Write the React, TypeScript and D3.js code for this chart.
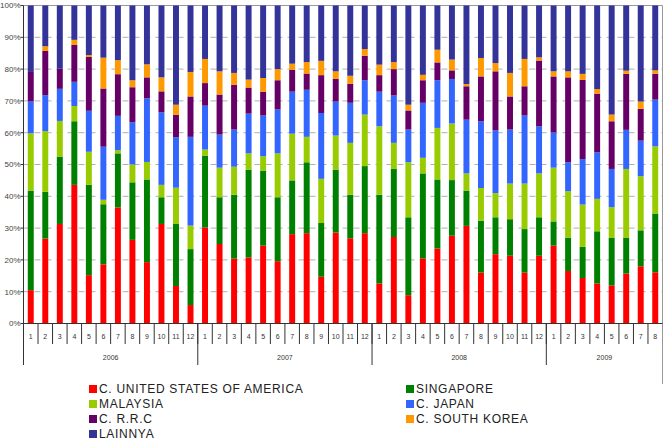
import React from 'react';
import * as d3 from 'd3';

const WIDTH = 670;
const HEIGHT = 442;

const MARGIN = { top: 5.5, left: 23.5, right: 662.5, bottom: 323.5 };

const YEARS = ['2006', '2007', '2008', '2009'];
const MONTHS_PER_YEAR = [12, 12, 12, 8];

const SERIES = [
  { key: 'usa', name: 'C. UNITED STATES OF AMERICA', color: '#ff0000' },
  { key: 'sg', name: 'SINGAPORE', color: '#008000' },
  { key: 'my', name: 'MALAYSIA', color: '#99cc00' },
  { key: 'jp', name: 'C. JAPAN', color: '#3366ff' },
  { key: 'prrc', name: 'C. R.R.C', color: '#660066' },
  { key: 'sk', name: 'C. SOUTH KOREA', color: '#ff9900' },
  { key: 'other', name: 'LAINNYA', color: '#333399' },
];

// percent share per month, 2006-01 .. 2009-08
const usa = [
  10.5, 26.7, 31.3, 43.6, 15.2, 18.6, 36.5, 26.3, 19.3, 31.3, 11.8, 5.8,
  30.2, 25, 20.4, 20.8, 24.5, 19.6, 28.1, 28.4, 14.7, 28.6, 26.8, 28.4,
  12.6, 27.2, 8.9, 20.5, 23.6, 27.6, 30.7, 16, 21.8, 21.3, 16, 21.3,
  24.5, 16.5, 14.3, 12.6, 12, 15.7, 18, 16.1,
];
const sg = [
  31.3, 14.7, 21.2, 20, 28.4, 18.9, 17, 18.1, 26, 8.4, 19.5, 17.6,
  22.6, 14.7, 20.1, 27.6, 23.6, 20.1, 16.9, 22.3, 16.9, 19.8, 13.7, 21.1,
  27.9, 21.4, 24.5, 26.7, 21.7, 17.5, 11.1, 16.3, 11.6, 11.5, 13.7, 12.1,
  7.6, 10.5, 9.8, 16.4, 14.9, 11.2, 11.3, 18.5,
];
const my = [
  18, 19.1, 11.2, 4.8, 10.4, 1.4, 1, 5.6, 5.5, 3.9, 11.4, 7.4,
  1.9, 9.3, 8.8, 5.1, 4.5, 13.8, 14.7, 8, 13.9, 10.7, 16.3, 16.2,
  21.5, 8.2, 17.3, 4.9, 16.2, 17.8, 5.4, 10.3, 7.6, 11.2, 14.3, 13.8,
  16.9, 14.6, 13.3, 10.2, 9.7, 21.7, 17, 21.1,
];
const jp = [
  10, 11.3, 10.1, 7.6, 12.9, 16.7, 10.8, 13.3, 20, 22.8, 15.9, 27.9,
  13.8, 10.4, 11.7, 12.5, 12.8, 13.8, 13.2, 14.8, 20.7, 10.7, 12.6, 10.8,
  10.9, 14.9, 10.3, 17.3, 15, 14, 16.9, 21, 19.7, 17, 21.4, 14.8,
  11.1, 9.1, 14.3, 14.6, 12, 12.3, 11.2, 14.7,
];
const prrc = [
  9.3, 13.9, 6.4, 11.6, 16.9, 18.3, 13.1, 11, 6.6, 6.6, 7, 12.7,
  7.1, 12.6, 14.1, 8.2, 7.5, 9.2, 6.9, 5.1, 11.9, 7.1, 6, 7.7,
  5.2, 8.3, 6, 7.1, 5.6, 2.7, 10.5, 14.1, 18.6, 10.4, 9.2, 20.7,
  17.6, 26.7, 24.9, 18.5, 15, 17.6, 10, 8.1,
];
const sk = [
  0, 1.5, 0, 1.6, 0.6, 9.7, 4.4, 2.2, 4.1, 4.4, 3.2, 7.7,
  7.6, 7.3, 3.7, 2.5, 4.3, 3.5, 1.9, 3.6, 4.5, 2.4, 2.5, 2.1,
  3.3, 2.2, 1.8, 1.7, 4, 3.4, 0.7, 5.8, 2.6, 7.4, 8.6, 1,
  1.6, 1.9, 1.9, 1.4, 2.1, 1, 2.3, 1.1,
];
const other = [
  20.9, 12.8, 19.8, 10.8, 15.6, 16.4, 17.2, 23.5, 18.5, 22.6, 31.2, 20.9,
  16.8, 20.7, 21.2, 23.3, 22.8, 20, 18.3, 17.8, 17.4, 20.7, 22.1, 13.7,
  18.6, 17.8, 31.2, 21.8, 13.9, 17, 24.7, 16.5, 18.1, 21.2, 16.8, 16.3,
  20.7, 20.7, 21.5, 26.3, 34.3, 20.5, 30.2, 20.4,
];

const VALUES: Record<string, number[]> = { usa, sg, my, jp, prrc, sk, other };

const Y_TICKS = [0, 10, 20, 30, 40, 50, 60, 70, 80, 90, 100];

const FONT = 'Arial, "Liberation Sans", Helvetica, sans-serif';

const App = () => {
  // one entry per month: id + label + year
  const months: { id: string; label: string; year: string }[] = [];
  YEARS.forEach((year, yi) => {
    for (let m = 1; m <= MONTHS_PER_YEAR[yi]; m++) {
      months.push({ id: `${year}-${m}`, label: String(m), year });
    }
  });

  const rows = months.map((m, i) => {
    const row: any = { id: m.id };
    const total = SERIES.reduce((s, ser) => s + VALUES[ser.key][i], 0);
    SERIES.forEach((ser) => {
      row[ser.key] = (VALUES[ser.key][i] / total) * 100;
    });
    return row;
  });

  const stacked = d3.stack<any>().keys(SERIES.map((s) => s.key))(rows);

  const cell = d3
    .scaleBand()
    .domain(months.map((m) => m.id))
    .range([MARGIN.left, MARGIN.right]);

  const x = d3
    .scaleBand()
    .domain(months.map((m) => m.id))
    .range([MARGIN.left, MARGIN.right])
    .paddingInner(0.59)
    .paddingOuter(0.295);

  const y = d3.scaleLinear().domain([0, 100]).range([MARGIN.bottom, MARGIN.top]);

  // year boundaries
  let idx = 0;
  const yearSpans = YEARS.map((year, yi) => {
    const start = cell(months[idx].id) as number;
    idx += MONTHS_PER_YEAR[yi];
    const end = (cell(months[idx - 1].id) as number) + cell.bandwidth();
    return { year, start, end };
  });

  const legendLeft = [SERIES[0], SERIES[2], SERIES[4], SERIES[6]];
  const legendRight = [SERIES[1], SERIES[3], SERIES[5]];

  return (
    <svg
      width={WIDTH}
      height={HEIGHT}
      style={{ position: 'absolute', left: 0, top: 0, background: '#fff' }}
      fontFamily={FONT}
    >
      {/* grid */}
      {Y_TICKS.filter((t) => t > 0 && t < 100).map((t) => (
        <line
          key={t}
          x1={MARGIN.left}
          x2={MARGIN.right}
          y1={y(t)}
          y2={y(t)}
          stroke="#b0b0b0"
          strokeDasharray="6,5"
        />
      ))}
      <line x1={MARGIN.left} x2={MARGIN.right} y1={y(100)} y2={y(100)} stroke="#999" />
      <line x1={MARGIN.right} x2={MARGIN.right} y1={y(100)} y2={384} stroke="#999" />

      {/* bars */}
      {stacked.map((layer, li) => (
        <g key={layer.key} fill={SERIES[li].color}>
          {layer.map((d, i) => (
            <rect
              key={i}
              x={x(months[i].id)}
              width={x.bandwidth()}
              y={y(d[1])}
              height={Math.max(0, y(d[0]) - y(d[1]))}
            />
          ))}
        </g>
      ))}

      {/* y axis */}
      <line x1={MARGIN.left} x2={MARGIN.left} y1={y(100)} y2={365} stroke="#333" />
      {Y_TICKS.map((t) => (
        <g key={t}>
          <line x1={MARGIN.left - 3} x2={MARGIN.left} y1={y(t)} y2={y(t)} stroke="#333" />
          <text
            x={MARGIN.left - 3}
            y={y(t)}
            dy="0.35em"
            textAnchor="end"
            fontSize={8}
            fill="#444"
          >
            {t}%
          </text>
        </g>
      ))}

      {/* x axis */}
      <line x1={MARGIN.left} x2={MARGIN.right} y1={MARGIN.bottom} y2={MARGIN.bottom} stroke="#333" />
      {months.map((m, i) => {
        const cx = (cell(m.id) as number) + cell.bandwidth() / 2;
        return (
          <g key={m.id}>
            {i > 0 && (
              <line
                x1={cell(m.id)}
                x2={cell(m.id)}
                y1={MARGIN.bottom}
                y2={344}
                stroke="#333"
              />
            )}
            <text x={cx} y={337} dy="0.35em" textAnchor="middle" fontSize={7} fill="#333">
              {m.label}
            </text>
          </g>
        );
      })}
      {yearSpans.map((s, i) => (
        <g key={s.year}>
          {i > 0 && (
            <line x1={s.start} x2={s.start} y1={MARGIN.bottom} y2={365} stroke="#333" />
          )}
          <text
            x={(s.start + s.end) / 2}
            y={358}
            dy="0.35em"
            textAnchor="middle"
            fontSize={7}
            fill="#333"
          >
            {s.year}
          </text>
        </g>
      ))}

      {/* legend */}
      {[
        { items: legendLeft, x: 89 },
        { items: legendRight, x: 406 },
      ].map((col, ci) => (
        <g key={ci}>
          {col.items.map((s, i) => (
            <g key={s.key} transform={`translate(${col.x}, ${389 + i * 15})`}>
              <rect x={0} y={-4} width={8} height={8} fill={s.color} />
              <text
                x={10}
                y={0}
                dy="0.36em"
                fontSize={12}
                letterSpacing={0.7}
                fill="#222"
              >
                {s.name}
              </text>
            </g>
          ))}
        </g>
      ))}
    </svg>
  );
};

export default App;
